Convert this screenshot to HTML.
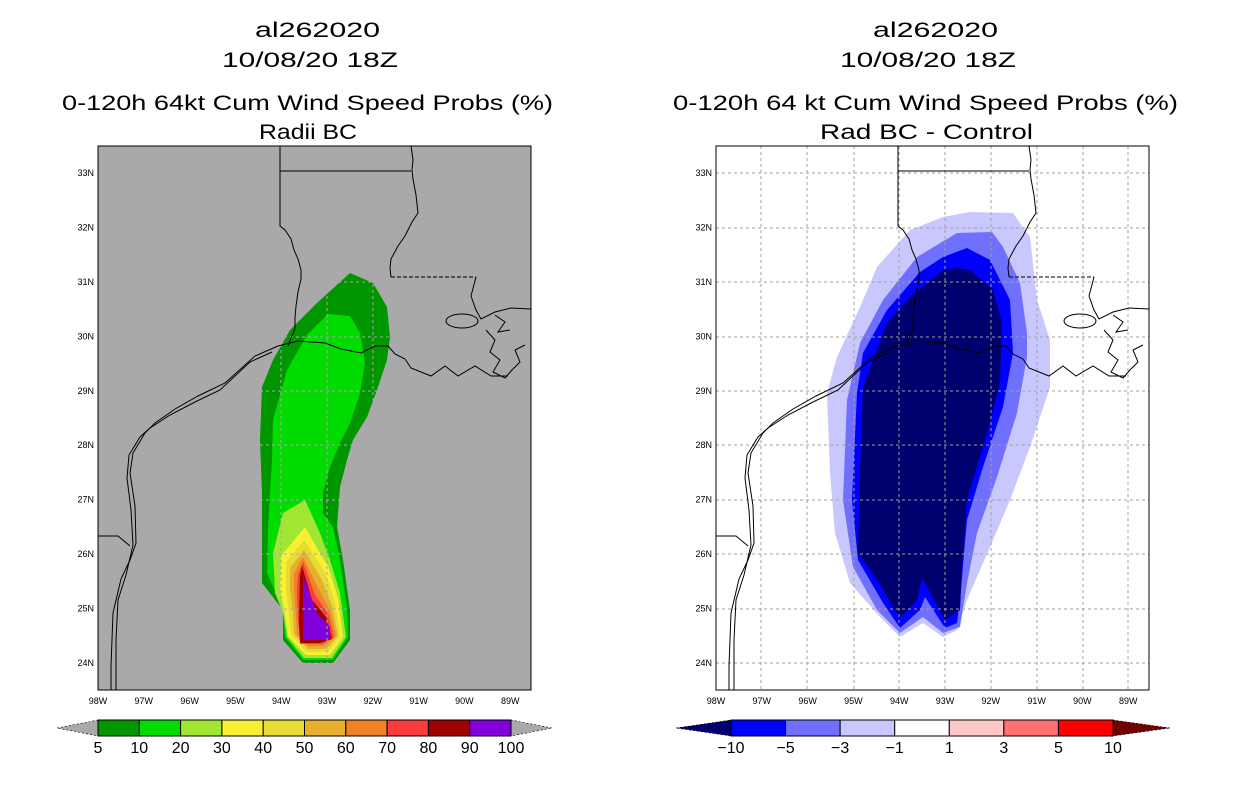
<!DOCTYPE html>
<html><head><meta charset="utf-8"><style>
body{margin:0;background:#fff;width:1236px;height:800px;overflow:hidden;font-family:"Liberation Sans",sans-serif}
svg text{font-family:"Liberation Sans",sans-serif}
</style></head><body>
<svg id="s" width="1236" height="800" viewBox="0 0 1236 800">
<defs>
<g id="coast">
<polyline fill="none" stroke="#000" stroke-width="1" points="111,690 111,666 113,613 121,579 130,560 136,543 135,506 130,473 133,453 145,433 155,423 175,409 198,396 225,383 255,356 278,346 298,341 325,343 341,349 361,353 375,346 388,346 395,354 405,359 411,368 431,376 445,366 458,376 475,366 491,376 508,376"/>
<polyline fill="none" stroke="#000" stroke-width="1" points="116,690 116,640 118,600 126,575 133,545 131,510 127,478 129,455 140,437 150,428 170,415 195,402 220,390 250,362 272,352"/>
<polyline fill="none" stroke="#000" stroke-width="1" points="98,536 118,536 130,546"/>
<polyline fill="none" stroke="#000" stroke-width="1" points="280,146 280,226 285,230 291,239 294,250 298,259 301,270 301,279 298,292 296,306 295,318 295,329 291,338 288,346"/>
<polyline fill="none" stroke="#000" stroke-width="1" points="280,171 411,171"/>
<polyline fill="none" stroke="#000" stroke-width="1" points="411,146 413,160 412,170 413,179 416,195 418,213 412,222 405,236 398,246 391,259 390,268 391,277"/>
<polyline fill="none" stroke="#000" stroke-width="1" stroke-dasharray="4,2" points="391,277 476,277"/>
<polyline fill="none" stroke="#000" stroke-width="1" points="476,277 471,296 476,310 481,319 495,312 511,308 531,309"/>
<ellipse cx="462" cy="321" rx="16" ry="7" fill="none" stroke="#000" stroke-width="1"/>
<polyline fill="none" stroke="#000" stroke-width="1" points="486,330 495,340 490,352 500,360 493,372 505,378 512,370 520,362 515,350 525,345"/>
<polyline fill="none" stroke="#000" stroke-width="1" points="495,315 505,322 498,332 510,330"/>
</g>
</defs>

<!-- LEFT PANEL -->
<g>
<text x="255" y="37" font-size="21" textLength="125" lengthAdjust="spacingAndGlyphs">al262020</text>
<text x="222" y="67" font-size="21" textLength="176" lengthAdjust="spacingAndGlyphs">10/08/20 18Z</text>
<text x="62" y="110" font-size="21" textLength="491" lengthAdjust="spacingAndGlyphs">0-120h 64kt Cum Wind Speed Probs (%)</text>
<text x="259" y="139" font-size="21" textLength="98" lengthAdjust="spacingAndGlyphs">Radii BC</text>
<rect x="98" y="146" width="433" height="544" fill="#a9a9a9"/>
<g>
<polygon fill="#009600" points="350,273 373,283 387,307 390,337 387,360 377,390 367,417 353,440 347,460 340,487 337,527 343,560 350,610 350,640 333,663 303,663 283,640 283,610 262,583 262,493 260,440 262,387 273,360 290,330 317,303"/>
<polygon fill="#00dc00" points="328,314 350,316 360,333 365,363 360,393 350,423 340,443 330,467 323,493 323,513 333,527 340,560 347,610 348,637 333,660 303,660 285,637 283,610 267,573 268,527 272,460 273,420 287,370 307,335"/>
<polygon fill="#a0e632" points="305,500 320,533 330,560 340,593 346,637 332,658 304,658 287,637 283,613 275,593 273,553 283,513"/>
<polygon fill="#faf032" points="305,527 318,550 328,566 338,598 343,637 330,655 306,655 288,636 285,614 280,590 281,556"/>
<polygon fill="#e6dc32" points="304,540 325,572 335,602 340,636 328,652 307,652 291,635 289,615 286,590 286,562"/>
<polygon fill="#e6af2d" points="304,550 322,580 332,606 338,636 326,649 308,649 294,634 293,616 290,590 290,568"/>
<polygon fill="#f08228" points="303,557 318,588 330,610 336,636 324,646 308,646 297,634 296,617 294,590 294,573"/>
<polygon fill="#fa3c3c" points="303,562 315,595 328,614 334,637 322,644 301,644 298,620 297,590 298,574"/>
<polygon fill="#a00000" points="302,566 312,600 326,617 332,639 320,643 300,643 299,622 300,576"/>
<polygon fill="#8200dc" points="303,575 308,590 317,613 330,627 330,640 303,640"/>
</g>
<g stroke="#a9a9a9" stroke-dasharray="3,3" stroke-width="1">
<path d="M143,146V690M189,146V690M236,146V690M281,146V690M327,146V690M373,146V690M419,146V690M465,146V690M510,146V690"/>
<path d="M98,173H531M98,228H531M98,282H531M98,337H531M98,391H531M98,445H531M98,500H531M98,554H531M98,609H531M98,663H531"/>
</g>
<use href="#coast"/>
<rect x="98" y="146" width="433" height="544" fill="none" stroke="#000" stroke-width="1"/>
<g id="lticks"></g>
<g id="lcbar"></g>
</g>

<!-- RIGHT PANEL -->
<g>
<text x="873" y="37" font-size="21" textLength="125" lengthAdjust="spacingAndGlyphs">al262020</text>
<text x="840" y="67" font-size="21" textLength="176" lengthAdjust="spacingAndGlyphs">10/08/20 18Z</text>
<text x="673" y="110" font-size="21" textLength="505" lengthAdjust="spacingAndGlyphs">0-120h 64 kt Cum Wind Speed Probs (%)</text>
<text x="820" y="139" font-size="21" textLength="213" lengthAdjust="spacingAndGlyphs">Rad BC - Control</text>
<rect x="716" y="146" width="433" height="544" fill="#fff"/>
<g>
<polygon fill="#c8c8ff" points="970,212 1013,213 1030,237 1037,300 1050,340 1050,387 1030,447 1010,500 990,547 967,600 957,630 943,637 923,623 900,637 880,617 850,583 835,533 830,473 827,393 837,357 860,307 877,267 910,230 943,217"/>
<polygon fill="#7070ff" points="992,232 1003,247 1020,283 1027,333 1027,357 1017,413 997,477 977,533 967,583 960,627 943,633 923,617 900,633 877,610 853,567 843,500 847,400 860,343 883,300 917,257 957,233"/>
<polygon fill="#0000ff" points="967,248 990,260 1010,300 1013,353 1003,407 983,467 967,520 960,600 957,623 945,628 925,597 920,610 900,628 883,603 858,560 852,500 857,393 863,353 887,310 920,272 943,257"/>
<polygon fill="#00006e" points="957,268 970,270 993,290 1002,323 1000,383 987,433 967,500 962,567 960,610 945,620 927,587 922,578 917,600 900,618 877,580 858,553 860,467 863,387 887,323 910,297 943,270"/>
</g>
<g stroke="#a0a0a0" stroke-dasharray="3,3" stroke-width="1">
<path d="M761,146V690M807,146V690M854,146V690M899,146V690M945,146V690M991,146V690M1037,146V690M1083,146V690M1128,146V690"/>
<path d="M716,173H1149M716,228H1149M716,282H1149M716,337H1149M716,391H1149M716,445H1149M716,500H1149M716,554H1149M716,609H1149M716,663H1149"/>
</g>
<use href="#coast" transform="translate(618,0)"/>
<rect x="716" y="146" width="433" height="544" fill="none" stroke="#000" stroke-width="1"/>
<g id="rticks"></g>
<g id="rcbar"></g>
</g>
</svg>
<script>
const lonLabels=["98W","97W","96W","95W","94W","93W","92W","91W","90W","89W"];
const latLabels=["33N","32N","31N","30N","29N","28N","27N","26N","25N","24N"];
const leftLevels=["5","10","20","30","40","50","60","70","80","90","100"];
const leftColors=["#009600","#00dc00","#a0e632","#faf032","#e6dc32","#e6af2d","#f08228","#fa3c3c","#a00000","#8200dc"];
const leftEnds=["#a9a9a9","#a9a9a9"];
const rightLevels=["\u221210","\u22125","\u22123","\u22121","1","3","5","10"];
const rightColors=["#0000ff","#7070ff","#c8c8ff","#ffffff","#ffc8c8","#ff7070","#ff0000"];
const rightEnds=["#00006e","#6e0000"];
const NS="http://www.w3.org/2000/svg";
function mk(t,a,p){const e=document.createElementNS(NS,t);for(const k in a)e.setAttribute(k,a[k]);p.appendChild(e);return e;}
const xLon=(i,x0)=>x0+i*45.8, yLat=i=>173+i*54.44;
function ticks(g,x0){
 lonLabels.forEach((l,i)=>{const t=mk('text',{x:xLon(i,x0),y:704,'font-size':9,'text-anchor':'middle'},g);t.textContent=l;
 
 });
 latLabels.forEach((l,i)=>{const t=mk('text',{x:x0-4,y:yLat(i)+3,'font-size':9,'text-anchor':'end'},g);t.textContent=l;
 
 });
}
ticks(document.getElementById('lticks'),98);
ticks(document.getElementById('rticks'),716);
function cbar(g,x0,x1,tip0,tip1,levels,colors,ends){
 const w=(x1-x0)/colors.length,y=720,h=16;
 const l=mk('polygon',{points:`${tip0},${y+h/2} ${x0},${y} ${x0},${y+h}`,fill:ends[0],stroke:'#000','stroke-dasharray':'2,2','stroke-width':0.6},g);
 
 
 const r=mk('polygon',{points:`${tip1},${y+h/2} ${x1},${y} ${x1},${y+h}`,fill:ends[1],stroke:'#000','stroke-dasharray':'2,2','stroke-width':0.6},g);
 
 
 colors.forEach((c,i)=>{const b=mk('rect',{x:x0+i*w,y:y,width:w,height:h,fill:c,stroke:'#000','stroke-width':1},g);
 
 });
 levels.forEach((s,i)=>{const t=mk('text',{x:x0+i*w,y:753,'font-size':16,'text-anchor':'middle'},g);t.textContent=s;
 
 });
}
cbar(document.getElementById('lcbar'),98,511,57,552,leftLevels,leftColors,leftEnds);
cbar(document.getElementById('rcbar'),731,1113,676,1170,rightLevels,rightColors,rightEnds);
</script>
</body></html>
